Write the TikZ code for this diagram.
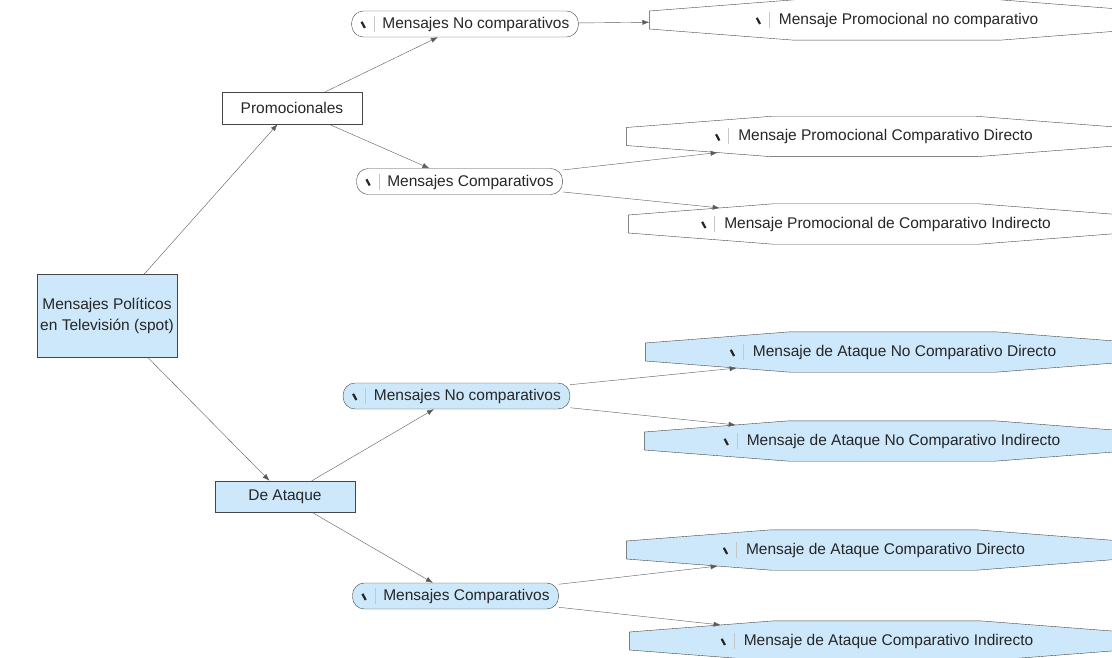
\documentclass[tikz,border=0pt]{standalone}
\usepackage{fontspec}
\setmainfont{Liberation Sans}
\usetikzlibrary{arrows.meta,calc}
\pgfdeclarelayer{fondo}
\pgfsetlayers{fondo,main}
\definecolor{celeste}{RGB}{204,232,250}
\definecolor{borde}{RGB}{70,70,70}
\definecolor{linea}{RGB}{90,90,90}
% icono de lapiz + separador; #1 = espacio antes del texto
\newcommand{\lapiz}[1][8pt]{\rotatebox{28}{\rule{2.2pt}{7pt}}\hspace{8pt}{\color{gray!45}\rule[-3.5pt]{0.6pt}{16pt}}\hspace{#1}}

\begin{document}
\begin{tikzpicture}[x=1pt,y=-1pt,
  font=\fontsize{15.5}{21}\selectfont,
  caja/.style={rectangle, draw=borde, minimum width=140pt, minimum height=32pt, text centered, text=black!85},
  pildora/.style={rectangle, rounded corners=12pt, draw=borde, minimum height=26pt, inner xsep=9pt, inner ysep=0pt, text=black!85},
  octo/.style={rectangle, minimum width=495pt, minimum height=40pt, inner sep=0pt, text=black!85},
  flecha/.style={draw=linea, -{Latex[length=7pt,width=5pt]}}]
\useasboundingbox (0,0) rectangle (1112,658);
\clip (0,0) rectangle (1112,658);

% raiz y ramas
\node[caja, fill=celeste, minimum height=83pt, align=center] (raiz) at (107,316) {Mensajes Políticos\\en Televisión (spot)};
\node[caja] (promo) at (292,108) {Promocionales};
\node[caja, fill=celeste, minimum height=31pt] (ataque) at (285,496.5) {De Ataque};

% mensajes
\node[pildora] (promNC) at (465,24) {\lapiz Mensajes No comparativos};
\node[pildora] (promC) at (459.5,181.5) {\lapiz Mensajes Comparativos};
\node[pildora, fill=celeste] (ataqNC) at (456.5,396) {\lapiz Mensajes No comparativos};
\node[pildora, fill=celeste] (ataqC) at (455.5,596) {\lapiz Mensajes Comparativos};

% tipos de mensaje
\node[octo] (o1) at (897,20) {\lapiz[5pt] Mensaje Promocional no comparativo};
\node[octo] (o2) at (874,136.5) {\lapiz[5pt] Mensaje Promocional Comparativo Directo};
\node[octo] (o3) at (876,224) {\lapiz[5pt] Mensaje Promocional de Comparativo Indirecto};
\node[octo] (o4) at (893,352) {\lapiz[5pt] Mensaje de Ataque No Comparativo Directo};
\node[octo] (o5) at (892,441) {\lapiz[5pt] Mensaje de Ataque No Comparativo Indirecto};
\node[octo] (o6) at (874,550) {\lapiz[5pt] Mensaje de Ataque Comparativo Directo};
\node[octo] (o7) at (877,641) {\lapiz[5pt] Mensaje de Ataque Comparativo Indirecto};

% contorno octogonal detras del texto, con puntos de llegada en los chaflanes
\begin{pgfonlayer}{fondo}
\foreach \n/\c in {o1/white,o2/white,o3/white,o4/celeste,o5/celeste,o6/celeste,o7/celeste} {
  \draw[draw=borde, fill=\c]
    ($(\n.north west)+(145,0)$) -- ($(\n.north east)+(-145,0)$) -- ($(\n.east)+(0,-9)$)
    -- ($(\n.east)+(0,9)$) -- ($(\n.south east)+(-145,0)$) -- ($(\n.south west)+(145,0)$)
    -- ($(\n.west)+(0,9)$) -- ($(\n.west)+(0,-9)$) -- cycle;
  \coordinate (\n-arr) at ($($(\n.west)+(0,-9)$)!0.63!($(\n.north west)+(145,0)$)$);
  \coordinate (\n-aba) at ($($(\n.west)+(0,9)$)!0.63!($(\n.south west)+(145,0)$)$);
}
\end{pgfonlayer}

% conectores
\draw[flecha] (raiz) -- (promo);
\draw[flecha] (raiz) -- (ataque);
\draw[flecha] (promo) -- (promNC);
\draw[flecha] (promo) -- (promC);
\draw[flecha] (ataque) -- (ataqNC);
\draw[flecha] (ataque) -- (ataqC);
\draw[flecha] (promNC) -- (o1);
\draw[flecha] (promC) -- (o2-aba);
\draw[flecha] (promC) -- (o3-arr);
\draw[flecha] (ataqNC) -- (o4-aba);
\draw[flecha] (ataqNC) -- (o5-arr);
\draw[flecha] (ataqC) -- (o6-aba);
\draw[flecha] (ataqC) -- (o7-arr);
\end{tikzpicture}
\end{document}
